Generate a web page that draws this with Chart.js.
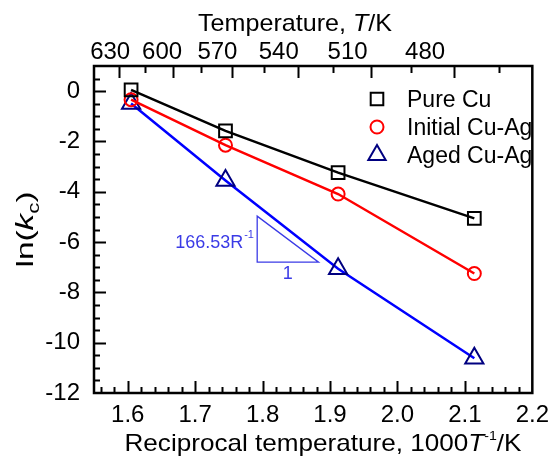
<!DOCTYPE html>
<html>
<head>
<meta charset="utf-8">
<script src="https://cdn.jsdelivr.net/npm/chart.js@4.4.1/dist/chart.umd.min.js"></script>
<style>
  html, body { margin: 0; padding: 0; background: #fff; }
  canvas { display: block; }
</style>
</head>
<body>
<canvas id="chart" width="557" height="458"></canvas>
<script>
// reciprocal temperature, 1000/T
const recipT = [1.605, 1.745, 1.912, 2.114];

// ln(kc) per sample
const pureCu = [0.05, -1.58, -3.24, -5.06];
const initialCuAg = [-0.34, -2.15, -4.09, -7.25];
const agedCuAg = [-0.49, -3.55, -7.06, -10.62];

const seriesNames = ['Pure Cu', 'Initial Cu-Ag', 'Aged Cu-Ag'];

// axis ticks
const xTicks = [1.6, 1.7, 1.8, 1.9, 2.0, 2.1, 2.2];
const yTicks = [0, -2, -4, -6, -8, -10, -12];
const topLabels = ['630', '600', '570', '540', '510', '480'];
// where the top labels sit (on the 1000/T scale)
const topLabelAt = [1.574, 1.651, 1.733, 1.824, 1.926, 2.041];
// temperatures that get a tick on the top axis
const topTickTemps = [630, 615, 600, 585, 570, 555, 540, 525, 510, 495, 480, 465];

const slopeText = '166.53R';

const FONT = "'Liberation Sans', Arial, sans-serif";
const tickFont = { family: FONT, size: 24 };

function points(ys) {
    return recipT.map((x, i) => ({ x: x, y: ys[i] }));
}

function richWidth(ctx, parts) {
    let w = 0;
    parts.forEach(p => {
        ctx.font = p.font;
        w += ctx.measureText(p.text).width;
    });
    return w;
}

// draws mixed-font text centred on cx, stretched to a given width
function drawRich(ctx, parts, cx, baseY, targetW, rot) {
    const w = richWidth(ctx, parts);
    const sx = targetW ? targetW / w : 1;
    ctx.save();
    ctx.translate(cx, baseY);
    if (rot) ctx.rotate(rot);
    ctx.scale(sx, 1);
    ctx.textAlign = 'left';
    ctx.textBaseline = 'alphabetic';
    let x = -w / 2;
    parts.forEach(p => {
        ctx.font = p.font;
        ctx.fillText(p.text, x, p.dy || 0);
        x += ctx.measureText(p.text).width;
    });
    ctx.restore();
}

const framePlugin = {
    id: 'frame',
    afterDatasetsDraw(chart) {
        const ctx = chart.ctx;
        const area = chart.chartArea;
        const xs = chart.scales.x;
        const ys = chart.scales.y;

        ctx.save();
        ctx.strokeStyle = '#000';
        ctx.fillStyle = '#000';

        // ticks, pointing inward
        ctx.lineWidth = 2;
        ctx.beginPath();
        for (let i = 78; i <= 109; i++) {
            const px = Math.round(xs.getPixelForValue(i / 50)) + 0.5;
            const len = i % 5 === 0 ? 12 : 6;
            ctx.moveTo(px, area.bottom);
            ctx.lineTo(px, area.bottom - len);
        }
        topTickTemps.forEach(t => {
            const px = Math.round(xs.getPixelForValue(1000 / t)) + 0.5;
            const len = (630 - t) % 30 === 0 ? 12 : 7;
            ctx.moveTo(px, area.top);
            ctx.lineTo(px, area.top + len);
        });
        for (let i = -23; i <= 1; i++) {
            const py = Math.round(ys.getPixelForValue(i / 2)) + 0.5;
            const len = i % 4 === 0 ? 12 : 6;
            ctx.moveTo(area.left, py);
            ctx.lineTo(area.left + len, py);
        }
        ctx.stroke();

        // box
        ctx.lineWidth = 2.5;
        ctx.strokeRect(area.left, area.top, area.right - area.left, area.bottom - area.top);

        // top (temperature) labels
        ctx.font = '24px ' + FONT;
        ctx.textAlign = 'center';
        ctx.textBaseline = 'alphabetic';
        topLabels.forEach((lab, i) => {
            ctx.fillText(lab, xs.getPixelForValue(topLabelAt[i]), area.top - 7);
        });

        // axis titles
        const tf = '24px ' + FONT;
        const tfi = 'italic 24px ' + FONT;
        drawRich(ctx, [
            { text: 'Temperature, ', font: tf },
            { text: 'T', font: tfi },
            { text: '/K', font: tf }
        ], 295, 31, 194);
        drawRich(ctx, [
            { text: 'Reciprocal temperature, 1000', font: tf },
            { text: 'T', font: tfi },
            { text: '-1', font: '13px ' + FONT, dy: -11 },
            { text: '/K', font: tf }
        ], 323, 451, 397);
        drawRich(ctx, [
            { text: 'ln(', font: tf },
            { text: 'k', font: tfi },
            { text: 'c', font: '16px ' + FONT, dy: 6 },
            { text: ')', font: tf }
        ], 33, (area.top + area.bottom) / 2, 76, -Math.PI / 2);

        // legend
        const sets = chart.data.datasets;
        const lx = 377;
        const lys = [99, 127, 155];
        sets.forEach((ds, i) => {
            const ly = lys[i];
            ctx.lineWidth = 2;
            ctx.strokeStyle = ds.pointBorderColor;
            ctx.beginPath();
            if (ds.pointStyle === 'rect') {
                ctx.rect(lx - 6.3, ly - 6.3, 12.6, 12.6);
            } else if (ds.pointStyle === 'circle') {
                ctx.arc(lx, ly, 6.5, 0, Math.PI * 2);
            } else {
                const r = 10;
                ctx.moveTo(lx, ly - r);
                ctx.lineTo(lx + r * 0.866, ly + r / 2);
                ctx.lineTo(lx - r * 0.866, ly + r / 2);
                ctx.closePath();
            }
            ctx.stroke();
            ctx.fillStyle = '#000';
            ctx.font = '23px ' + FONT;
            ctx.textAlign = 'left';
            ctx.textBaseline = 'alphabetic';
            ctx.fillText(ds.label, 407, ly + 8);
        });

        // slope triangle for the aged line
        const x0 = xs.getPixelForValue(1.792);
        const x1 = xs.getPixelForValue(1.883);
        const yTop = ys.getPixelForValue(-4.97);
        const yBot = ys.getPixelForValue(-6.80);
        ctx.strokeStyle = '#3b3be6';
        ctx.lineWidth = 1.3;
        ctx.beginPath();
        ctx.moveTo(x0, yTop);
        ctx.lineTo(x0, yBot);
        ctx.lineTo(x1, yBot);
        ctx.closePath();
        ctx.stroke();
        ctx.fillStyle = '#3b3be6';
        ctx.font = '18px ' + FONT;
        ctx.textAlign = 'right';
        ctx.fillText(slopeText, x0 - 14, (yTop + yBot) / 2 + 9);
        ctx.font = '11px ' + FONT;
        ctx.textAlign = 'left';
        ctx.fillText('-1', x0 - 13, (yTop + yBot) / 2 - 1);
        ctx.font = '18px ' + FONT;
        ctx.textAlign = 'center';
        ctx.fillText('1', (x0 + x1) / 2, yBot + 17);

        ctx.restore();
    }
};

new Chart(document.getElementById('chart'), {
    type: 'scatter',
    data: {
        datasets: [
            {
                label: seriesNames[0],
                data: points(pureCu),
                showLine: true,
                borderColor: '#000000',
                borderWidth: 2.5,
                pointStyle: 'rect',
                pointRadius: 9,
                pointBorderWidth: 2,
                pointBorderColor: '#000000',
                pointBackgroundColor: 'rgba(0,0,0,0)'
            },
            {
                label: seriesNames[1],
                data: points(initialCuAg),
                showLine: true,
                borderColor: '#ff0000',
                borderWidth: 2.5,
                pointStyle: 'circle',
                pointRadius: 6.5,
                pointBorderWidth: 2,
                pointBorderColor: '#ff0000',
                pointBackgroundColor: 'rgba(0,0,0,0)'
            },
            {
                label: seriesNames[2],
                data: points(agedCuAg),
                showLine: true,
                borderColor: '#0000ff',
                borderWidth: 2.5,
                pointStyle: 'triangle',
                pointRadius: 10.5,
                pointBorderWidth: 2,
                pointBorderColor: '#000080',
                pointBackgroundColor: 'rgba(0,0,0,0)'
            }
        ]
    },
    options: {
        responsive: false,
        animation: false,
        layout: { padding: { left: 0, right: 17, top: 66, bottom: 0 } },
        plugins: {
            legend: { display: false },
            tooltip: { enabled: false }
        },
        scales: {
            x: {
                type: 'linear',
                position: 'bottom',
                min: 1.55,
                max: 2.2,
                afterBuildTicks: s => { s.ticks = xTicks.map(v => ({ value: v })); },
                afterFit: s => { s.height = 65; },
                ticks: {
                    font: tickFont,
                    color: '#000',
                    padding: 8,
                    maxRotation: 0,
                    autoSkip: false,
                    callback: v => Number(v).toFixed(1)
                },
                grid: { display: false, drawTicks: false },
                border: { display: false }
            },
            y: {
                min: -12,
                max: 1,
                afterBuildTicks: s => { s.ticks = yTicks.map(v => ({ value: v })); },
                afterFit: s => { s.width = 94; },
                ticks: {
                    font: tickFont,
                    color: '#000',
                    padding: 14,
                    autoSkip: false
                },
                grid: { display: false, drawTicks: false },
                border: { display: false }
            }
        }
    },
    plugins: [framePlugin]
});
</script>
</body>
</html>
